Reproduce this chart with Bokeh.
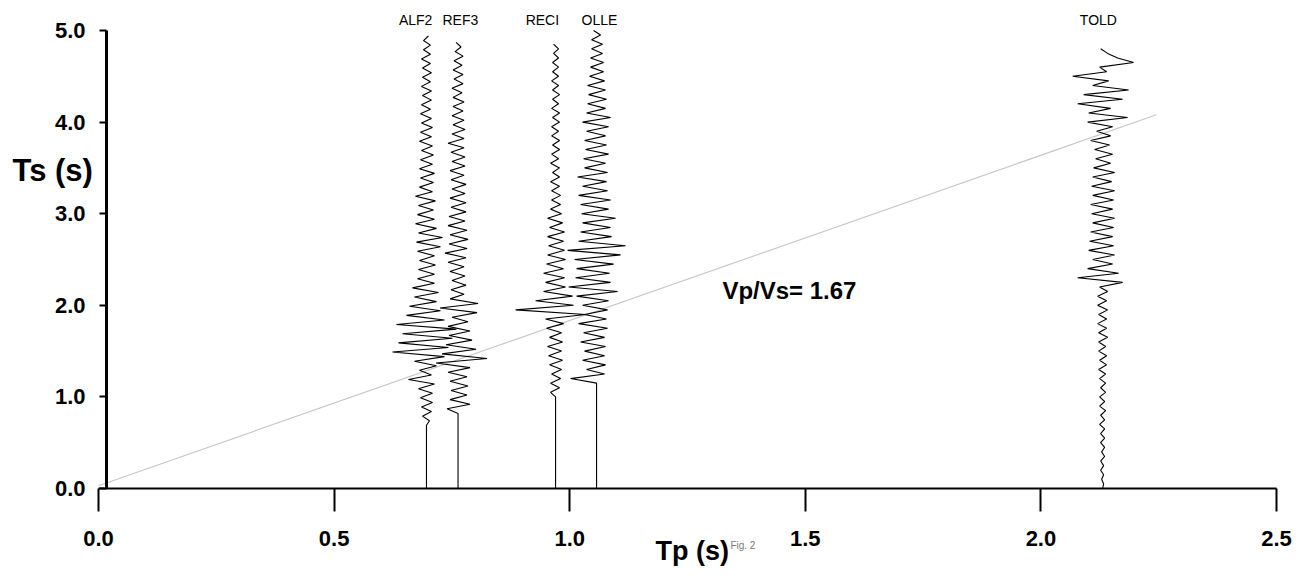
import numpy as np
from bokeh.plotting import figure
from bokeh.models import FixedTicker, NumeralTickFormatter, Label, Range1d, LinearAxis
from bokeh.embed import file_html
from bokeh.resources import INLINE

# ---------------- data ----------------
stations = ["ALF2", "REF3", "RECI", "OLLE", "TOLD"]
tp_pos = [0.696, 0.763, 0.970, 1.057, 2.131]      # Tp (s) of each station trace
ts_start = [0.69, 0.82, 1.00, 1.15, 0.0]           # start of trace window (s)
label_tp = [0.673, 0.768, 0.942, 1.063, 2.122]     # station name position
label_ts = 5.11
dt = 0.05
amp_gain = 0.00212                                 # Tp units per amplitude count

alf2 = [0, 3, -4, 5, -5, 6, -6, 6, -8, 8,
        -18, 5, -7, 10, -12, 18, -34, 22, -28, 26,
        -24, 30, -30, 18, -20, 14, -17, 10, -12, 12,
        -14, 8, -9, 8, -8, 9, -7, 8, -9, 14,
        -10, 16, -8, 10, -11, 8, -9, 7, -8, 9,
        -11, 6, -7, 7, -6, 8, -7, 6, -6, 7,
        -5, 6, -7, 5, -6, 6, -5, 5, -6, 4,
        -5, 5, -4, 5, -5, 4, -4, 5, -4, 4,
        -5, 4, -3, 4, -3, 2]

ref3 = [0, -11, 12, -8, 9, -7, 10, -8, 9, -10,
        12, -22, 29, -16, 18, -12, 14, -9, 12, -10,
        10, -6, 19, -18, 20, -8, 6, -7, 8, -6,
        7, -8, 6, -10, 8, -13, 9, -9, 10, -8,
        9, -10, 7, -9, 8, -7, 8, -8, 7, -6,
        8, -7, 6, -8, 7, -6, 7, -7, 6, -10,
        6, -6, 7, -5, 6, -6, 5, -5, 6, -5,
        4, -6, 5, -4, 5, -5, 4, -4, 5, -3,
        3, -2]

reci = [0, -5, 4, -5, 5, -4, 6, -6, 7, -7, 6,
        -8, 7, -6, 6, -9, 8, -10, 30, -40, 18,
        -20, 17, -12, 10, -10, 9, -12, 8, -9, 10,
        -8, 9, -7, 8, -8, 9, -6, 7, -8, 6,
        -5, 5, -4, 5, -4, 4, -5, 4, -3, 4,
        -5, 3, -4, 4, -3, 4, -4, 3, -4, 4,
        -3, 4, -4, 3, -3, 4, -3, 3, -4, 3,
        -3, 3, -3, 3, -2, 3, -2]

olle = [0, -26, 8, -10, 9, -14, 8, -12, 9, -16,
        8, -13, 11, -18, 10, -12, 11, -14, 12, -20,
        21, -28, 14, -21, 13, -20, 17, -22, 24, -29,
        29, -18, 15, -16, 14, -14, 19, -15, 12, -16,
        14, -18, 11, -14, 10, -19, 11, -12, 9, -13,
        12, -11, 10, -12, 9, -10, 12, -14, 14, -10,
        9, -9, 10, -8, 9, -9, 8, -7, 7, -6,
        7, -6, 6, -5, 6, -5, 4, -3]

told = [0, 1, -1, 1, -2, 1, -2, 2, -1, 2,
        -2, 2, -2, 2, -3, 2, -2, 3, -3, 2,
        -3, 3, -2, 3, -3, 3, -4, 4, -3, 4,
        -4, 3, -4, 5, -4, 4, -5, 4, -4, 5,
        -5, 4, -5, 5, -3, 20, -25, 16, -15, 10,
        -10, 12, -14, 11, -13, 10, -12, 11, -10, 12,
        -11, 10, -12, 11, -10, 12, -11, 9, -10, 12,
        -9, 8, -7, 10, -8, 7, -12, 8, -6, 10,
        -15, 25, -14, 8, -25, 20, -19, 26, -10, 6,
        -30, 4, -3, 31, 15, 5, -2]

traces = [alf2, ref3, reci, olle, told]

fit_tp = [0.0, 2.245]
fit_ts = [0.03, 4.08]
ratio_text = "Vp/Vs= 1.67"

x_ticks = [0.0, 0.5, 1.0, 1.5, 2.0, 2.5]
y_ticks = [0.0, 1.0, 2.0, 3.0, 4.0, 5.0]

FONT = "Liberation Sans"

# ---------------- figure ----------------
# the frame covers the whole canvas; the axes are placed at fixed data locations
p = figure(width=1296, height=567,
           x_range=Range1d(-0.208, 2.5424), y_range=Range1d(-0.8624, 5.3275),
           output_backend="svg", toolbar_location=None,
           x_axis_location=None, y_axis_location=None,
           min_border=0, min_border_left=0, min_border_right=0,
           min_border_top=0, min_border_bottom=0)
p.grid.visible = False
p.outline_line_color = None
p.background_fill_color = "white"
p.border_fill_color = "white"

xa = LinearAxis(fixed_location=0.0, bounds=(0.0, 2.5))
xa.ticker = FixedTicker(ticks=x_ticks)
xa.formatter = NumeralTickFormatter(format="0.0")
xa.major_tick_out = 23
xa.major_tick_in = 0
xa.minor_tick_line_color = None
xa.axis_line_width = 2
xa.major_tick_line_width = 2
xa.major_label_text_font = FONT
xa.major_label_text_font_style = "bold"
xa.major_label_text_font_size = "22px"
xa.major_label_standoff = 19
xa.major_label_text_color = "black"
p.add_layout(xa, "below")

ya = LinearAxis(fixed_location=0.017, bounds=(0.0, 5.0))
ya.ticker = FixedTicker(ticks=y_ticks)
ya.formatter = NumeralTickFormatter(format="0.0")
ya.major_tick_out = 7
ya.major_tick_in = 0
ya.minor_tick_line_color = None
ya.axis_line_width = 3
ya.major_tick_line_width = 2
ya.major_label_text_font = FONT
ya.major_label_text_font_style = "bold"
ya.major_label_text_font_size = "22px"
ya.major_label_standoff = 14
ya.major_label_text_color = "black"
p.add_layout(ya, "left")

# regression line
p.line(fit_tp, fit_ts, line_color="#c8c8c8", line_width=1.2)

# seismogram traces
for x0, t0, a in zip(tp_pos, ts_start, traces):
    a = np.asarray(a, dtype=float)
    t = t0 + dt * np.arange(len(a))
    xs = np.concatenate([[x0], x0 + amp_gain * a])
    ys = np.concatenate([[0.0], t])
    p.line(xs, ys, line_color="black", line_width=1.1)

for name, lx in zip(stations, label_tp):
    p.add_layout(Label(x=lx, y=label_ts, text=name, text_align="center",
                       text_baseline="middle", text_font=FONT,
                       text_font_size="14px", text_color="black"))

p.add_layout(Label(x=1.324, y=2.16, text=ratio_text, text_align="left",
                   text_baseline="middle", text_font=FONT, text_font_style="bold",
                   text_font_size="24px", text_color="black"))

p.add_layout(Label(x=-0.1825, y=3.47, text="Ts (s)", text_align="left",
                   text_baseline="middle", text_font=FONT, text_font_style="bold",
                   text_font_size="31px", text_color="black"))

p.add_layout(Label(x=1.182, y=-0.845, text="Tp (s)", text_align="left",
                   text_baseline="bottom", text_font=FONT, text_font_style="bold",
                   text_font_size="27px", text_color="black"))

p.add_layout(Label(x=1.341, y=-0.62, text="Fig. 2", text_align="left",
                   text_baseline="middle", text_font=FONT,
                   text_font_size="10px", text_color="#777777"))

open("out.html", "w").write(file_html(p, INLINE))
